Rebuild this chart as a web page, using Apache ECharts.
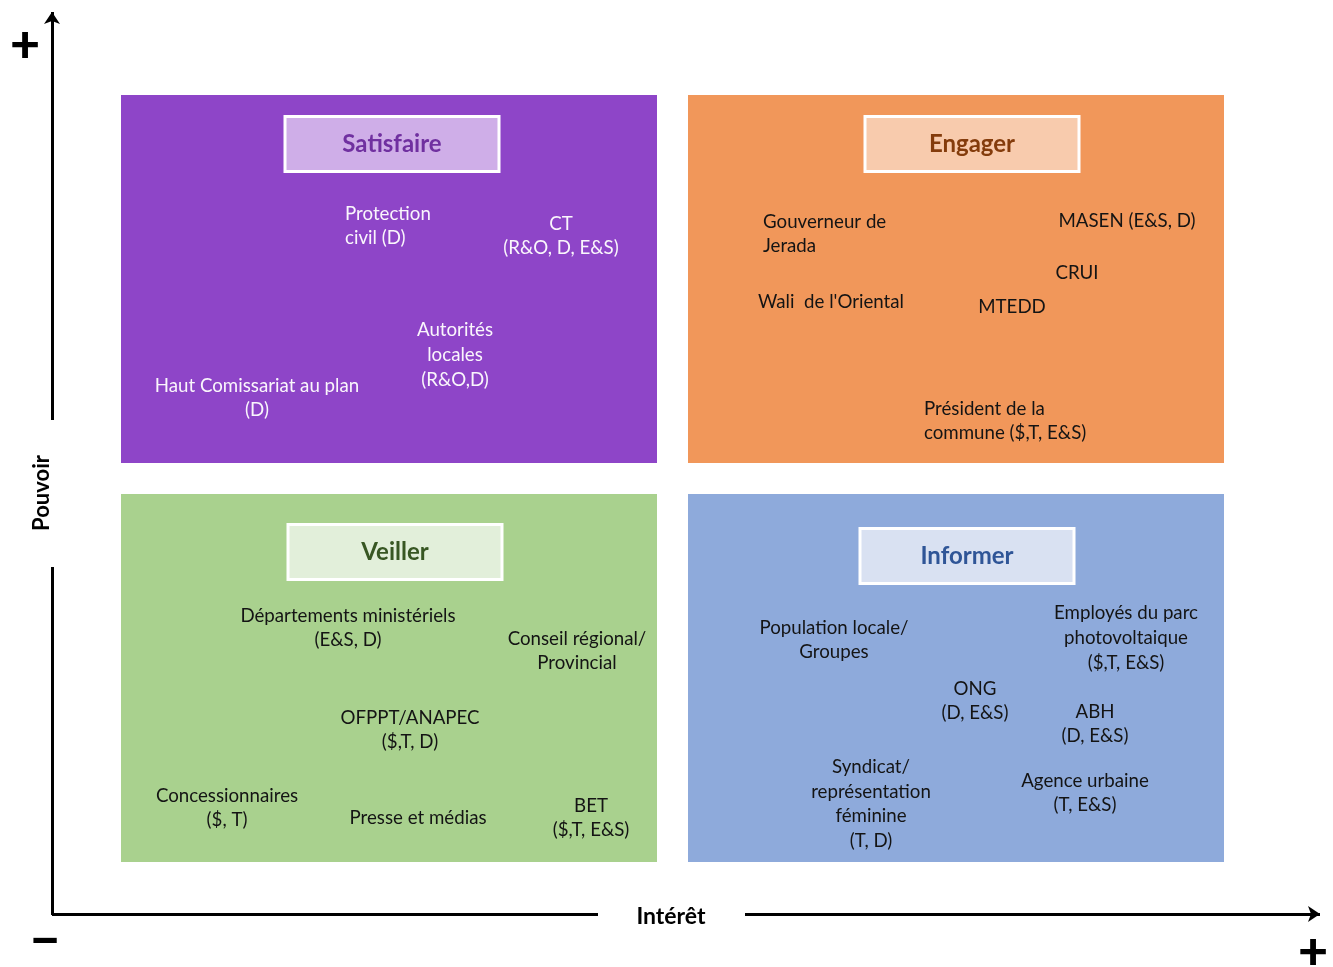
<!DOCTYPE html>
<html><head><meta charset="utf-8">
<script src="https://cdn.jsdelivr.net/npm/echarts@6/dist/echarts.min.js"></script>
<style>html,body{margin:0;padding:0;background:#fff}#c{width:1333px;height:967px}</style>
</head><body><div id="c"></div>
<script>
// Quadrants: name, interest range, power range (chart units)
const quadNames = ['Satisfaire', 'Engager', 'Veiller', 'Informer'];
const quadX0 = [121, 688, 121, 688];
const quadX1 = [657, 1224, 657, 1224];
const quadY0 = [95, 95, 494, 494];
const quadY1 = [463, 463, 862, 862];
const quadTitleX = [392, 972, 395, 967];
const quadTitleY = [144, 144, 552, 556];

// Stakeholders: label, interest (x), power (y, measured downward), quadrant index
const stakeLabels = [
  'Protection\ncivil (D)', 'CT\n(R&O, D, E&S)', 'Autorités\nlocales\n(R&O,D)', 'Haut Comissariat au plan\n(D)',
  'Gouverneur de\nJerada', 'MASEN (E&S, D)', 'CRUI', "Wali  de l'Oriental", 'MTEDD', 'Président de la\ncommune ($,T, E&S)',
  'Départements ministériels\n(E&S, D)', 'Conseil régional/\nProvincial', 'OFPPT/ANAPEC\n($,T, D)', 'Concessionnaires\n($, T)', 'Presse et médias', 'BET\n($,T, E&S)',
  'Population locale/\nGroupes', 'Employés du parc\nphotovoltaique\n($,T, E&S)', 'ONG\n(D, E&S)', 'ABH\n(D, E&S)', 'Syndicat/\nreprésentation\nféminine\n(T, D)', 'Agence urbaine\n(T, E&S)'
];
const stakeX = [345, 561, 455, 257, 763, 1127, 1077, 831, 1012, 924, 348, 577, 410, 227, 418, 591, 834, 1126, 975, 1095, 871, 1085];
const stakeY = [226, 236, 355, 398, 234, 221, 273, 302, 307, 421, 628, 651, 730, 808, 818, 818, 640, 638, 701, 724, 804, 793];
const stakeQuad = [0,0,0,0, 1,1,1,1,1,1, 2,2,2,2,2,2, 3,3,3,3,3,3];
const stakeLeftAligned = [true,false,false,false, true,false,false,false,false,true, false,false,false,false,false,false, false,false,false,false,false,false];

// Axis texts
const axisTexts = ['Pouvoir', 'Intérêt', '+', '−', '+'];

const quadFill = ['#8E45C8', '#F1975A', '#A9D18E', '#8EAADB'];
const titleFill = ['#CFAEE8', '#F8CBAD', '#E2EFDA', '#D9E1F2'];
const titleColor = ['#7030A0', '#843C0C', '#385723', '#2F5597'];
const textColor = ['#FAF6FC', '#141414', '#141414', '#141414'];
const FONT = 'Lato, "Open Sans", sans-serif';

const chart = echarts.init(document.getElementById('c'), null, {renderer: 'canvas'});

const quadData = quadNames.map((n, i) => [quadX0[i], quadY0[i], quadX1[i], quadY1[i], i]);
const titleData = quadNames.map((n, i) => [quadTitleX[i], quadTitleY[i], i]);

const stakeData = stakeLabels.map((l, i) => ({
  value: [stakeX[i], stakeY[i]],
  name: l,
  label: {
    color: textColor[stakeQuad[i]],
    align: stakeLeftAligned[i] ? 'left' : 'center'
  }
}));

const axisSegs = [
  {coords: [[52, 420], [52, 12]], arrow: true},
  {coords: [[52, 567], [52, 915]], arrow: false},
  {coords: [[52, 914], [598, 914]], arrow: false},
  {coords: [[745, 914], [1320, 914]], arrow: true}
];

const axisTextData = [
  {value: [42, 493], name: axisTexts[0], label: {rotate: 90, fontSize: 22}},
  {value: [671, 917], name: axisTexts[1], label: {fontSize: 23}},
  {value: [25, 45], name: axisTexts[2], label: {fontSize: 52, fontWeight: 900}},
  {value: [45, 941], name: axisTexts[3], label: {fontSize: 52, fontWeight: 900}},
  {value: [1313, 952], name: axisTexts[4], label: {fontSize: 52, fontWeight: 900}}
];

chart.setOption({
  animation: false,
  backgroundColor: '#fff',
  grid: {left: 0, right: 0, top: 0, bottom: 0},
  xAxis: {type: 'value', min: 0, max: 1333, show: false},
  yAxis: {type: 'value', min: 0, max: 967, inverse: true, show: false},
  series: [
    {
      type: 'custom',
      data: quadData,
      renderItem: function (params, api) {
        const p0 = api.coord([api.value(0), api.value(1)]);
        const p1 = api.coord([api.value(2), api.value(3)]);
        const idx = api.value(4);
        return {
          type: 'rect',
          shape: {x: p0[0], y: p0[1], width: p1[0] - p0[0], height: p1[1] - p0[1]},
          style: {fill: quadFill[idx]}
        };
      },
      z: 1
    },
    {
      type: 'custom',
      data: titleData,
      z: 4,
      renderItem: function (params, api) {
        const c = api.coord([api.value(0), api.value(1)]);
        const idx = api.value(2);
        const w = 214, h = 55;
        return {
          type: 'group',
          children: [
            {
              type: 'rect',
              shape: {x: c[0] - w / 2, y: c[1] - h / 2, width: w, height: h},
              style: {fill: titleFill[idx], stroke: '#FFFFFF', lineWidth: 3}
            },
            {
              type: 'text',
              x: c[0], y: c[1],
              style: {
                text: quadNames[idx],
                fill: titleColor[idx],
                font: 'bold 24px ' + FONT,
                align: 'center',
                verticalAlign: 'middle'
              }
            }
          ]
        };
      }
    },
    {
      type: 'lines',
      coordinateSystem: 'cartesian2d',
      data: axisSegs.map(s => ({
        coords: s.coords,
        symbol: s.arrow ? ['none', 'arrow'] : ['none', 'none'],
        symbolSize: s.arrow ? 12 : 0
      })),
      lineStyle: {color: '#000', width: 3, opacity: 1},
      z: 3
    },
    {
      type: 'scatter',
      data: stakeData,
      symbolSize: 0,
      itemStyle: {opacity: 1},
      z: 5,
      label: {
        show: true,
        position: 'inside',
        formatter: '{b}',
        fontFamily: FONT,
        fontSize: 18.7,
        lineHeight: 24.7,
        opacity: 1,
        verticalAlign: 'middle'
      }
    },
    {
      type: 'scatter',
      data: axisTextData,
      symbolSize: 0,
      itemStyle: {opacity: 1},
      z: 5,
      label: {
        show: true,
        position: 'inside',
        formatter: '{b}',
        fontFamily: FONT,
        fontWeight: 'bold',
        color: '#000',
        opacity: 1,
        align: 'center',
        verticalAlign: 'middle'
      }
    }
  ]
});
</script>
</body></html>
